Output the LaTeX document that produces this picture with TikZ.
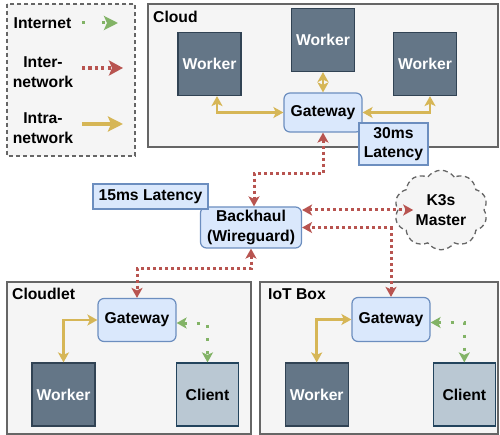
\documentclass[tikz,border=0pt]{standalone}
\usepackage{fontspec}
\setmainfont{Liberation Sans}
\usetikzlibrary{arrows.meta,shapes.symbols,calc}
\definecolor{grpfill}{HTML}{F5F5F5}
\definecolor{grpline}{HTML}{666666}
\definecolor{wfill}{HTML}{647687}
\definecolor{wline}{HTML}{314354}
\definecolor{cfill}{HTML}{BAC8D3}
\definecolor{cline}{HTML}{23445D}
\definecolor{gfill}{HTML}{DAE8FC}
\definecolor{gline}{HTML}{6C8EBF}
\definecolor{redc}{HTML}{B85450}
\definecolor{yelc}{HTML}{D6B656}
\definecolor{grnc}{HTML}{82B366}
\tikzset{
  lbl/.style={font=\bfseries\fontsize{15.7}{19.5}\selectfont, align=center, inner sep=0},
  grp/.style={draw=grpline, fill=grpfill, line width=1.3pt},
  grplabel/.style={lbl, anchor=west},
  worker/.style={lbl, draw=wline, fill=wfill, line width=1.2pt, text=white, minimum width=63pt, minimum height=63pt},
  client/.style={lbl, draw=cline, fill=cfill, line width=1.2pt, minimum width=62pt, minimum height=63pt},
  gw/.style={lbl, draw=gline, fill=gfill, line width=1.2pt, rounded corners=6pt, minimum width=78pt, minimum height=41pt},
  lat/.style={lbl, draw=gline, fill=gfill, line width=1.2pt},
  yarr/.style={draw=yelc, line width=2.8pt, {Stealth[length=10pt,width=11pt,inset=2.5pt]}-{Stealth[length=10pt,width=11pt,inset=2.5pt]}},
  rarr/.style={draw=redc, line width=3pt, dash pattern=on 3pt off 3pt, {Stealth[length=10pt,width=11pt,inset=2.5pt]}-{Stealth[length=10pt,width=11pt,inset=2.5pt]}},
  garr/.style={draw=grnc, line width=3pt, dash pattern=on 3pt off 10pt, {Stealth[length=10pt,width=11pt,inset=2.5pt]}-{Stealth[length=10pt,width=11pt,inset=2.5pt]}},
}
\begin{document}
\begin{tikzpicture}[x=1pt,y=-1pt]
\useasboundingbox (0,0) rectangle (500,435);
% legend
\draw[draw=grpline, fill=grpfill, line width=1.3pt, dash pattern=on 4pt off 3pt] (7,4) rectangle (135,156);
\node[lbl] (lgi) at (42.5,23) {Internet};
\node[lbl] (lge) at (43,72) {Inter-\\network};
\node[lbl] (lga) at (43,128) {Intra-\\network};
\coordinate (gi1) at (82,23); \coordinate (gi2) at (118,23);
\coordinate (ge1) at (82,68); \coordinate (ge2) at (123,68);
\coordinate (ga1) at (82,124); \coordinate (ga2) at (123,124);
\draw[draw=grnc, line width=3pt, dash pattern=on 3pt off 17pt, -{Stealth[length=14pt,width=14pt,inset=3pt]}] (gi1) -- (gi2);
\draw[draw=redc, line width=3.2pt, dash pattern=on 3.2pt off 3.2pt, -{Stealth[length=14pt,width=15pt,inset=3pt]}] (ge1) -- (ge2);
\draw[draw=yelc, line width=3.2pt, -{Stealth[length=15pt,width=15pt,inset=3pt]}] (ga1) -- (ga2);

% groups
\draw[grp] (148,4) rectangle (498,147);
\node[grplabel] (lcloud) at (153,17) {Cloud};
\draw[grp] (7,282) rectangle (251,434);
\node[grplabel] (lcloudlet) at (12,294) {Cloudlet};
\draw[grp] (260,282) rectangle (498,434);
\node[grplabel] (liot) at (268,294) {IoT Box};

% cloud nodes
\node[worker] (wl) at (209.5,64) {Worker};
\node[worker] (wm) at (323,40) {Worker};
\node[worker] (wr) at (425,64) {Worker};
\node[gw, minimum height=39pt] (gwc) at (323,112.5) {Gateway};

% backhaul and k3s
\node[gw, minimum width=101pt] (bh) at (251,227.5) {Backhaul\\(Wireguard)};
\node[lat, minimum width=115pt, minimum height=25pt] (lat15) at (150.5,196.5) {15ms Latency};
\node[cloud, cloud puffs=10, cloud puff arc=110, draw=grpline, fill=grpfill, line width=1.3pt, dash pattern=on 5pt off 3.5pt, minimum width=93pt, minimum height=74pt, lbl] (k3s) at (441,210) {K3s\\Master};

% cloudlet nodes
\node[gw, minimum height=43pt] (gwl) at (137,320) {Gateway};
\node[worker] (wkl) at (63.5,394.5) {Worker};
\node[client] (cll) at (207.5,394.5) {Client};

% iot nodes
\node[gw, minimum height=44pt] (gwi) at (391,319.5) {Gateway};
\node[worker] (wki) at (316.7,394.5) {Worker};
\node[client] (cli) at (464.3,394.5) {Client};

% cloud connectors
\draw[yarr] ([xshift=7.5pt]wl.south) |- (gwc.west);
\draw[yarr] (wm.south) -- (gwc.north);
\draw[yarr] ([xshift=5pt]wr.south) |- (gwc.east);

% red connectors
\draw[rarr] (gwc.south) -- ++(0,41) -| ([xshift=3pt]bh.north);
\draw[rarr] (bh.east |- k3s.west) -- ([xshift=16pt]k3s.west);
\draw[rarr] (gwi.north) |- (bh.east);
\draw[rarr] (bh.south) -- ++(0,20) -| (gwl.north);

% latency box on top
\node[lat, minimum width=69pt, minimum height=42pt] (lat30) at (393.5,144) {30ms\\Latency};

% cloudlet connectors
\draw[yarr] (gwl.west) -| (wkl.north);
\draw[garr] ([yshift=-3pt]gwl.east) -| (cll.north);
% iot connectors
\draw[yarr] (gwi.west) -| (wki.north);
\draw[garr] ([yshift=-3pt]gwi.east) -| (cli.north);
\end{tikzpicture}
\end{document}
